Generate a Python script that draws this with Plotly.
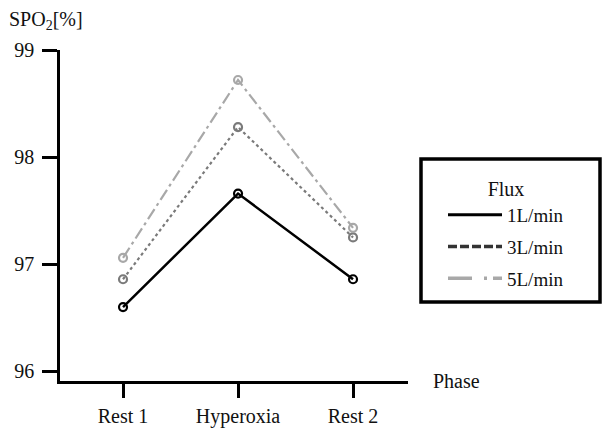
import plotly.graph_objects as go

phases = ["Rest 1", "Hyperoxia", "Rest 2"]
flux_1 = [96.60, 97.66, 96.86]
flux_3 = [96.86, 98.28, 97.25]
flux_5 = [97.06, 98.72, 97.34]
series_names = ["1L/min", "3L/min", "5L/min"]
y_ticks = [96, 97, 98, 99]

FONT = "Liberation Serif"
W, H = 609, 430
L, R, T, B = 60, 201, 50, 49
pw, ph = W - L - R, H - T - B

def px2x(p):
    return (p - L) / pw

def px2y(p):
    return (H - B - p) / ph

fig = go.Figure()
styles = [
    dict(color="#000000", width=2.5, dash="solid"),
    dict(color="#7a7a7a", width=2.2, dash="dot"),
    dict(color="#a8a8a8", width=2.2, dash="12px,4px,3px,4px"),
]
legend_styles = [
    dict(color="#000000", width=3, dash="solid"),
    dict(color="#333333", width=3.5, dash="9px,3px"),
    dict(color="#a8a8a8", width=3.5, dash="24px,12px,3px,6px"),
]
for i, (name, vals) in enumerate(zip(series_names, [flux_1, flux_3, flux_5])):
    fig.add_trace(go.Scatter(
        x=list(range(len(phases))), y=vals, name=name, mode="lines+markers",
        line=styles[i], showlegend=False,
        marker=dict(symbol="circle-open", size=8, color=styles[i]["color"],
                    line=dict(width=2.2, color=styles[i]["color"])),
    ))
for i, name in enumerate(series_names):
    fig.add_trace(go.Scatter(
        x=[None], y=[None], name=name, mode="lines", line=legend_styles[i],
        legendgroup=f"g{i}", showlegend=True,
    ))

fig.update_layout(
    template="none",
    width=W, height=H, margin=dict(l=L, r=R, t=T, b=B, autoexpand=False),
    plot_bgcolor="white", paper_bgcolor="white",
    font=dict(family=FONT, size=20, color="#111111"),
    showlegend=True,
    legend=dict(
        x=px2x(443), y=px2y(170), xanchor="left", yanchor="top",
        title=dict(text="Flux", side="top center", font=dict(family=FONT, size=20)),
        font=dict(family=FONT, size=19), bgcolor="rgba(0,0,0,0)", borderwidth=0,
        tracegroupgap=4, itemwidth=54,
    ),
    xaxis=dict(
        range=[-0.548, 2.478], tickmode="array", tickvals=list(range(len(phases))),
        ticktext=phases, showline=True, linecolor="black", linewidth=2.5,
        ticks="outside", ticklen=14, tickwidth=2.5, tickcolor="black",
        showgrid=False, zeroline=False, ticklabelstandoff=1, automargin=False,
    ),
    yaxis=dict(
        range=[95.91, 99.0], tickvals=y_ticks, showline=True, linecolor="black",
        linewidth=2.5, ticks="outside", ticklen=15, tickwidth=2.5, tickcolor="black",
        showgrid=False, zeroline=False, ticklabelstandoff=4, automargin=False,
    ),
    shapes=[dict(type="rect", xref="paper", yref="paper",
                 x0=px2x(421), x1=px2x(600), y0=px2y(302), y1=px2y(159),
                 line=dict(color="black", width=3.5), fillcolor="rgba(0,0,0,0)")],
    annotations=[
        dict(text="SPO<sub>2</sub>[%]", xref="paper", yref="paper",
             x=px2x(7), y=px2y(6), xanchor="left", yanchor="top", showarrow=False,
             font=dict(family=FONT, size=20, color="#111111")),
        dict(text="Phase", xref="paper", yref="paper",
             x=px2x(431), y=px2y(381), xanchor="left", yanchor="middle", showarrow=False,
             font=dict(family=FONT, size=20, color="#111111")),
    ],
)

fig.write_html("out.html", config={"displayModeBar": False},
               post_script="document.body.style.margin='0';document.body.style.overflow='hidden';")
